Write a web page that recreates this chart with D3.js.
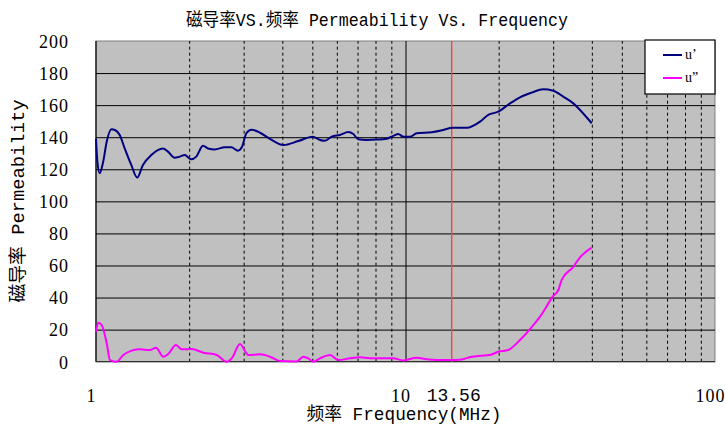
<!DOCTYPE html>
<html><head><meta charset="utf-8">
<script src="https://cdn.jsdelivr.net/npm/d3@7"></script>
<style>
html,body{margin:0;padding:0;background:#fff;}
svg{display:block;}
</style>
</head><body>
<svg id="chart" width="725" height="428"></svg>
<script>
// ---- data ----
const titleText = "磁导率VS.频率 Permeability Vs. Frequency";
const xTitle = "频率 Frequency(MHz)";
const yTitle = "磁导率 Permeability";
const xTickValues = [1, 10, 100];
const xMinorGrid = [2,3,4,5,6,7,8,9,20,30,40,50,60,70,80,90];
const yTickValues = [0,20,40,60,80,100,120,140,160,180,200];
const markerPos = 14.1;        // read position of the red line
const markerLabel = "13.56";
const seriesNames = ["u’", "u”"];

const freqU1 = [1.000,1.010,1.028,1.053,1.085,1.121,1.152,1.193,1.238,1.300,1.359,1.418,1.509,1.646,1.708,1.796,1.864,1.934,2.032,2.109,2.217,2.301,2.418,2.605,2.736,2.876,2.964,3.059,3.180,3.388,3.696,4.029,4.505,5.014,5.293,5.494,5.775,6.144,6.535,6.782,7.039,7.490,8.072,8.698,9.133,9.479,9.838,10.34,10.87,12.15,13.25,14.17,15.77,17.41,18.51,19.94,21.76,23.44,25.57,27.88,30.03,32.35,34.85,36.63,39.97];
const valU1 = [139,125,117.5,124,138,145,144.5,141.4,133,122.7,114.8,122.7,128.9,133,131,127.2,127.9,128.9,126.2,127.9,134.7,133,132.4,133.7,133.7,131.6,134,142.4,144.7,142.8,138.3,135.1,137.6,140.3,138.3,137.8,140.3,141.4,143.2,142,138.7,138.3,138.5,139.1,140.8,142,140.3,140.3,142.4,143.1,144.5,145.9,145.9,149.7,153.9,155.9,161.1,164.9,167.8,169.9,169,165.3,161.1,157,148.7];

const freqU2 = [1.000,1.017,1.043,1.083,1.110,1.166,1.225,1.304,1.387,1.494,1.563,1.650,1.712,1.813,1.892,2.038,2.222,2.455,2.644,2.745,2.919,3.105,3.388,3.650,3.931,4.451,4.675,4.853,5.037,5.293,5.703,6.066,6.620,7.129,7.679,8.271,9.133,9.838,10.87,11.71,12.61,13.92,15.00,16.37,17.41,18.75,19.94,21.48,23.44,25.57,27.21,30.03,31.17,31.97,34.85,36.63,39.97];
const valU2 = [18.7,24.3,22.9,11.5,1,0,4.2,6.9,7.7,7.3,8.7,3.1,4.8,10.4,7.7,7.9,5.6,4.2,0,2.1,11,4.2,4.6,3.1,0.4,0.2,3.1,2.1,0,2.1,4.2,1,2.1,2.7,2.1,2.1,2.1,0.8,2.5,1.5,1,1,1.2,3.1,3.7,4.2,6.2,7.3,13.5,21.5,28.1,41,44.7,51,59.2,65.1,71.1];

const seriesColors = ["#000080", "#ff00ff"];

// ---- layout ----
const svg = d3.select("#chart");
const L = 96, R = 715, T = 41, B = 361.7;
const x = d3.scaleLog().domain([1,100]).range([L,R]);
const y = d3.scaleLinear().domain([0,200]).range([B,T]);
const latin = "'Liberation Mono','Noto Sans CJK SC',monospace";
const serif = "'Liberation Serif','Noto Sans CJK SC',serif";

// plot background
svg.append("rect").attr("x",L).attr("y",T).attr("width",R-L).attr("height",B-T)
  .attr("fill","#c0c0c0").attr("stroke","#808080").attr("stroke-width",1);

// horizontal grid
const hg = svg.append("g").attr("transform",`translate(${L},0)`)
  .call(d3.axisLeft(y).tickValues(yTickValues.filter(v=>v>0&&v<200)).tickSize(-(R-L)).tickFormat(""));
hg.select(".domain").remove();
hg.selectAll("line").attr("stroke","#000").attr("stroke-width",1);

// vertical minor dashed grid
const vg = svg.append("g").attr("transform",`translate(0,${B})`)
  .call(d3.axisBottom(x).tickValues(xMinorGrid).tickSize(-(B-T)).tickFormat(""));
vg.select(".domain").remove();
vg.selectAll("line").attr("stroke","#000").attr("stroke-width",1).attr("stroke-dasharray","3,3");

// vertical major (10)
const mg = svg.append("g").attr("transform",`translate(0,${B})`)
  .call(d3.axisBottom(x).tickValues([10]).tickSize(-(B-T)).tickFormat(""));
mg.select(".domain").remove();
mg.selectAll("line").attr("stroke","#000").attr("stroke-width",1);

// axis lines
svg.append("line").attr("x1",L).attr("x2",L).attr("y1",T).attr("y2",B).attr("stroke","#000").attr("stroke-width",1.2);
svg.append("line").attr("x1",L).attr("x2",R).attr("y1",B).attr("y2",B).attr("stroke","#333").attr("stroke-width",1.2);

// red marker
svg.append("line").attr("x1",x(markerPos)).attr("x2",x(markerPos)).attr("y1",T).attr("y2",B)
  .attr("stroke","#ff4040").attr("stroke-width",1.4);

// series
const line = d3.line().x(d=>x(d[0])).y(d=>y(d[1])).curve(d3.curveMonotoneX);
const s1 = freqU1.map((f,i)=>[f,valU1[i]]);
const s2 = freqU2.map((f,i)=>[f,valU2[i]]);
svg.append("path").datum(s2).attr("d",line).attr("fill","none").attr("stroke",seriesColors[1]).attr("stroke-width",2);
svg.append("path").datum(s1).attr("d",line).attr("fill","none").attr("stroke",seriesColors[0]).attr("stroke-width",2);

// y axis labels
const ya = svg.append("g").attr("transform",`translate(${L},0)`)
  .call(d3.axisLeft(y).tickValues(yTickValues).tickSize(0).tickPadding(27));
ya.select(".domain").remove();
ya.selectAll("text").attr("font-family",serif).attr("font-size",18).attr("fill","#000")
  .attr("letter-spacing","1px").attr("dy","0.35em");

// x axis labels
const xa = svg.append("g").attr("transform",`translate(0,${B})`)
  .call(d3.axisBottom(x).tickValues(xTickValues).tickSize(0).tickFormat(d3.format("d")));
xa.select(".domain").remove();
xa.selectAll("text").attr("font-family",serif).attr("font-size",18).attr("fill","#000")
  .attr("letter-spacing","1px").attr("dx","-5").attr("y",40).attr("dy",0);

svg.append("text").attr("x",x(markerPos)+2).attr("y",401).attr("text-anchor","middle")
  .attr("font-family",latin).attr("font-size",18).attr("fill","#000").text(markerLabel);

// titles
svg.append("text").attr("x",377).attr("y",26).attr("text-anchor","middle")
  .attr("font-family",latin).attr("font-size",18).attr("fill","#000")
  .attr("textLength",382).attr("lengthAdjust","spacingAndGlyphs").text(titleText);
svg.append("text").attr("x",404).attr("y",420).attr("text-anchor","middle")
  .attr("font-family",latin).attr("font-size",18).attr("fill","#000")
  .attr("textLength",195).attr("lengthAdjust","spacingAndGlyphs").text(xTitle);
svg.append("text").attr("transform","translate(24,201) rotate(-90)").attr("text-anchor","middle")
  .attr("font-family",latin).attr("font-size",18).attr("fill","#000")
  .attr("textLength",203).attr("lengthAdjust","spacingAndGlyphs").text(yTitle);

// legend
const lg = svg.append("g");
lg.append("rect").attr("x",645).attr("y",40).attr("width",70).attr("height",54)
  .attr("fill","#fff").attr("stroke","#000").attr("stroke-width",1.2);
[55,78].forEach((yy,i)=>{
  lg.append("line").attr("x1",663).attr("x2",682).attr("y1",yy).attr("y2",yy)
    .attr("stroke",seriesColors[i]).attr("stroke-width",2);
  lg.append("text").attr("x",685).attr("y",yy+4).attr("font-family",serif).attr("font-size",14)
    .attr("fill","#000").text(seriesNames[i]);
});
</script>
</body></html>
